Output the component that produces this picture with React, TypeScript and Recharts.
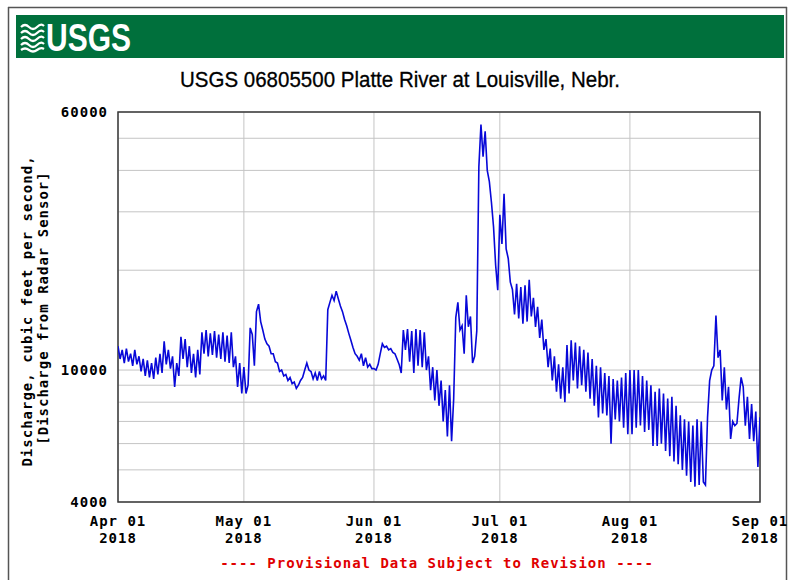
import React from "react";
import { LineChart, Line, XAxis, YAxis, CartesianGrid, ReferenceArea } from "recharts";

const aprilFlow = [
  11800, 10800, 11500, 10500, 11600, 10600, 11200, 10300, 11500, 10400,
  11000, 9900, 10800, 9600, 10700, 9500, 10500, 9400, 10900, 9700,
  11200, 9800, 12200, 10400, 11500, 10100, 11000, 8900, 10500, 9600,
  12600, 10800, 12400, 10200, 11800, 9800, 11200, 9500, 11500, 9700,
  13000, 11200, 13200, 11000, 12900, 11100, 13100, 10900, 12800, 10800,
  13000, 10600, 12700, 10500, 13000, 10200, 11000, 8900, 10500, 8500,
];
const mayFlow = [
  10200, 8500, 9000, 13400, 12800, 10300, 15000, 15800, 14000, 13200,
  12400, 12000, 11800, 11200, 11200, 10600, 10500, 9900, 10000, 9600,
  9700, 9300, 9500, 9100, 9200, 8800, 9000, 9300, 9500, 10000,
  10500, 10000, 9900, 9400, 9800, 9300, 9900, 9400, 9600, 9300,
  15200, 16000, 16800, 16200, 17300, 16400, 15600, 15000, 14200, 13600,
  12900, 12300, 11700, 11200, 11000, 10700, 11200, 10300, 10900, 10200,
  10400, 10100,
];
const juneFlow = [
  10100, 10000, 10400, 11200, 12000, 11700, 11800, 11500, 11600, 11300,
  11200, 10800, 10400, 9800, 13200, 11500, 13300, 10600, 13100, 9800,
  13300, 10300, 13200, 10200, 13000, 10000, 11000, 8700, 10200, 8100,
  10000, 7800, 9300, 7000, 8700, 6300, 9000, 6100, 8200, 14400,
  16000, 13200, 13600, 11200, 16800, 13500, 14500, 10500, 11000, 13100,
  41000, 55000, 44000, 52500, 40000, 37000, 32000, 27000, 20700, 17400,
];
const julyFlow = [
  29400, 24000, 34000, 23200, 21700, 18400, 17500, 14700, 18200, 14300,
  17800, 13800, 18000, 14000, 18700, 14500, 16500, 13500, 15500, 12500,
  14200, 11500, 12400, 10200, 11600, 9300, 11000, 8600, 10400, 8200,
  10200, 8000, 11900, 8500, 12300, 9300, 12100, 8800, 11800, 9000,
  11500, 8600, 11300, 8200, 10800, 7800, 10300, 7200, 10200, 7400,
  9800, 7300, 9600, 6000, 9400, 7100, 9300, 7000, 9500, 6700,
  9800, 6400,
];
const augustFlow = [
  10000, 6400, 10000, 6700, 10000, 6800, 9600, 6500, 9300, 6600,
  9000, 5900, 8600, 5900, 8800, 6000, 8500, 5700, 8200, 5500,
  8300, 5300, 7800, 5200, 7300, 5000, 7100, 4800, 7000, 4600,
  6800, 4450, 7100, 4500, 7000, 4600, 4500, 7200, 9300, 10000,
  10300, 14600, 10900, 11500, 8100, 10200, 7600, 8900, 6200, 7000,
  6800, 6900, 8200, 9500, 8900, 6800, 8300, 6200, 7900, 6100,
  7500, 5100,
];
const septemberFlow = [7200];

const monthTickDays = [0, 30, 61, 91, 122, 153];
const monthTickLabels = ["Apr 01", "May 01", "Jun 01", "Jul 01", "Aug 01", "Sep 01"];
const yearLabel = "2018";
const yGridTicks = [4000, 5000, 6000, 7000, 8000, 9000, 10000, 20000, 30000, 40000, 50000, 60000];
const yLabelledTicks = [4000, 10000, 60000];

const allFlow = [...aprilFlow, ...mayFlow, ...juneFlow, ...julyFlow, ...augustFlow, ...septemberFlow];
const data = allFlow.map((cfs, i) => ({ day: i * 0.5, cfs }));

const mono = "'DejaVu Sans Mono', 'Liberation Mono', monospace";

const YTick = (props: any) => {
  const { x, y, payload } = props;
  if (!yLabelledTicks.includes(payload.value)) return null;
  return (
    <text x={x} y={y + 5} textAnchor="end" fontFamily={mono} fontWeight="bold" fontSize={14} letterSpacing={1} fill="#000">
      {String(payload.value)}
    </text>
  );
};

const XTick = (props: any) => {
  const { x, y, payload } = props;
  const idx = monthTickDays.indexOf(payload.value);
  const label = idx >= 0 ? monthTickLabels[idx] : "";
  return (
    <g fontFamily={mono} fontWeight="bold" fontSize={14} letterSpacing={1} fill="#000">
      <text x={x} y={y + 24} textAnchor="middle">{label}</text>
      <text x={x} y={y + 41} textAnchor="middle">{yearLabel}</text>
    </g>
  );
};

export default function App() {
  return (
    <div style={{ position: "absolute", left: 0, top: 0, width: 789, height: 580, background: "#fff", overflow: "hidden" }}>
      <svg width={789} height={580} style={{ position: "absolute", left: 0, top: 0 }}>
        <line x1={8.5} y1={7} x2={8.5} y2={580} stroke="#555" strokeWidth={1.5} />
        <line x1={8} y1={7.5} x2={787} y2={7.5} stroke="#555" strokeWidth={1.5} />
        <line x1={786.5} y1={7} x2={786.5} y2={580} stroke="#555" strokeWidth={1.5} />
        <rect x={16} y={15} width={768} height={43} fill="#00703c" />
        <g stroke="#fff" strokeWidth={2.2} fill="none">
          <path d="M21 27 q4 -4 8 0 t8 0 t7 -1" />
          <path d="M21 33 q4 -4 8 0 t8 0 t7 -1" />
          <path d="M21 39 q4 -4 8 0 t8 0 t7 -1" />
          <path d="M21 45 q4 -4 8 0 t8 0 t7 -1" />
          <path d="M21 50 q4 -3 8 0 t8 0 t7 -1" />
        </g>
        <text x={46} y={51} fontFamily="'Liberation Sans Narrow', 'Liberation Sans', Arial, sans-serif" fontWeight="bold" fontSize={38} fill="#fff" textLength={85} lengthAdjust="spacingAndGlyphs">
          USGS
        </text>
        <text x={400} y={87} textAnchor="middle" fontFamily="'Liberation Sans Narrow', 'Liberation Sans', Arial, sans-serif" fontSize={22} fontWeight={500} fill="#000" stroke="#000" strokeWidth={0.3} textLength={440} lengthAdjust="spacingAndGlyphs">
          USGS 06805500 Platte River at Louisville, Nebr.
        </text>
        <g fontFamily={mono} fontWeight="bold" fontSize={14} letterSpacing={1} fill="#000">
          <text x={32} y={311} textAnchor="middle" transform="rotate(-90 32 311)">Discharge, cubic feet per second,</text>
          <text x={48} y={308} textAnchor="middle" transform="rotate(-90 48 308)">[Discharge from Radar Sensor]</text>
        </g>
        <text x={437} y={568} textAnchor="middle" fontFamily={mono} fontWeight="bold" fontSize={14} letterSpacing={1} fill="#e00000">
          ---- Provisional Data Subject to Revision ----
        </text>
      </svg>
      <div style={{ position: "absolute", left: 0, top: 0 }}>
        <LineChart width={789} height={580} data={data} margin={{ top: 112, right: 29, bottom: 0, left: 0 }}>
          <CartesianGrid stroke="#c4c4c4" strokeWidth={1} />
          <XAxis
            dataKey="day"
            type="number"
            domain={[0, 153]}
            ticks={monthTickDays}
            height={78}
            tickSize={0}
            tickMargin={0}
            tickLine={false}
            axisLine={false}
            tick={<XTick />}
            interval={0}
            allowDataOverflow
          />
          <YAxis
            scale="log"
            domain={[4000, 60000]}
            ticks={yGridTicks}
            width={118}
            tickSize={0}
            tickMargin={10}
            tickLine={false}
            axisLine={false}
            tick={<YTick />}
            interval={0}
            allowDataOverflow
          />
          <Line type="linear" dataKey="cfs" stroke="#0808d8" strokeWidth={1.6} dot={false} isAnimationActive={false} />
          <ReferenceArea x1={0} x2={153} y1={4000} y2={60000} fill="none" stroke="#3a3a3a" strokeWidth={1.5} ifOverflow="visible" />
        </LineChart>
      </div>
    </div>
  );
}
